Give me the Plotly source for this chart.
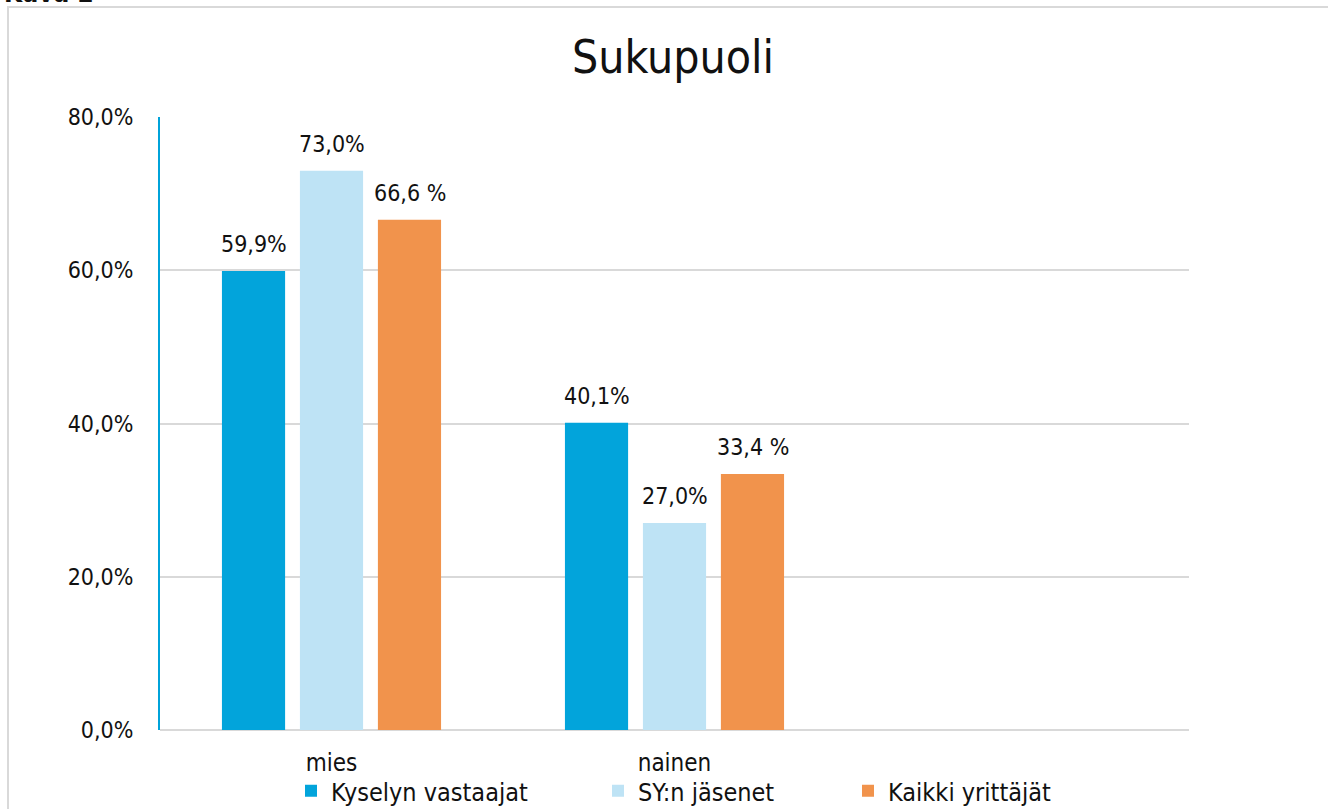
import plotly.graph_objects as go

categories = ["mies", "nainen"]
series_names = ["Kyselyn vastaajat", "SY:n jäsenet", "Kaikki yrittäjät"]
kyselyn_vastaajat = [59.9, 40.1]
sy_jasenet = [73.0, 27.0]
kaikki_yrittajat = [66.6, 33.4]
labels_kyselyn = ["59,9%", "40,1%"]
labels_sy = ["73,0%", "27,0%"]
labels_kaikki = ["66,6 %", "33,4 %"]
y_ticks = [0, 20, 40, 60, 80]
y_tick_labels = ["0,0%", "20,0%", "40,0%", "60,0%", "80,0%"]

colors = ["#02A4DB", "#BEE3F5", "#F1934C"]
font_c = "DejaVu Sans Condensed, DejaVu Sans"

W, H = 1328, 809
left, right, top, bottom = 160, 1189, 117, 730
pw, ph = right - left, bottom - top


def px_x(v):
    return (v - left) / pw


def px_y(v):
    return (bottom - v) / ph


fig = go.Figure()
values = [kyselyn_vastaajat, sy_jasenet, kaikki_yrittajat]
texts = [labels_kyselyn, labels_sy, labels_kaikki]
legends = ["legend", "legend2", "legend3"]
annotations = []
slot = 78  # pixel width of one bar slot inside a group
for i, (name, vals, txt, col, lg) in enumerate(zip(series_names, values, texts, colors, legends)):
    fig.add_trace(go.Bar(
        x=categories, y=vals, name=name, legend=lg, showlegend=True,
        marker=dict(color=col, line=dict(width=0)),
    ))
    for cat, v, t in zip(categories, vals, txt):
        annotations.append(dict(
            x=cat, y=v, text=t, xref="x", yref="y", showarrow=False,
            xanchor="center", yanchor="bottom", xshift=(i - 1) * slot, yshift=12,
            font=dict(family=font_c, size=23, color="#111111")))

annotations.append(dict(text="<b>Kuva 2</b>", xref="paper", yref="paper",
                        x=px_x(2), y=px_y(10), xanchor="left", yanchor="bottom",
                        showarrow=False,
                        font=dict(family=font_c, size=26, color="#111111")))

legend_style = dict(orientation="h", yanchor="middle", xanchor="left",
                    font=dict(family=font_c, size=25, color="#111111"),
                    bgcolor="rgba(0,0,0,0)", itemwidth=30)
fig.update_layout(
    width=W, height=H,
    margin=dict(l=left, r=W - right, t=top, b=H - bottom, pad=0, autoexpand=False),
    paper_bgcolor="white", plot_bgcolor="white",
    barmode="group", bargap=0.318, bargroupgap=0.19,
    showlegend=True,
    title=dict(text="Sukupuoli", x=673 / W, xanchor="center", xref="container",
               y=1 - 57 / H, yanchor="middle", yref="container",
               font=dict(family=font_c, size=46, color="#111111")),
    legend=dict(x=px_x(291), y=px_y(791), **legend_style),
    legend2=dict(x=px_x(598), y=px_y(791), **legend_style),
    legend3=dict(x=px_x(848), y=px_y(791), **legend_style),
    xaxis=dict(range=[-0.5, 2.5], showgrid=False, showline=False, ticks="",
               ticklabelstandoff=16,
               tickfont=dict(family=font_c, size=24, color="#111111")),
    yaxis=dict(range=[0, 80], tickvals=y_ticks, ticktext=y_tick_labels,
               showgrid=True, gridcolor="#D9D9D9", gridwidth=1.5,
               zeroline=True, zerolinecolor="#D9D9D9", zerolinewidth=1.5,
               showline=True, linecolor="#00A3DA", linewidth=2,
               ticks="", ticklabelstandoff=20,
               tickfont=dict(family=font_c, size=23, color="#111111")),
    shapes=[dict(type="rect", xref="paper", yref="paper",
                 x0=px_x(8), x1=px_x(1340), y0=px_y(830), y1=px_y(7),
                 line=dict(color="#D9D9D9", width=2), fillcolor="rgba(0,0,0,0)",
                 layer="below")],
    annotations=annotations,
)

fig.write_html("out.html", config={"displayModeBar": False},
               post_script="document.body.style.margin='0';")
